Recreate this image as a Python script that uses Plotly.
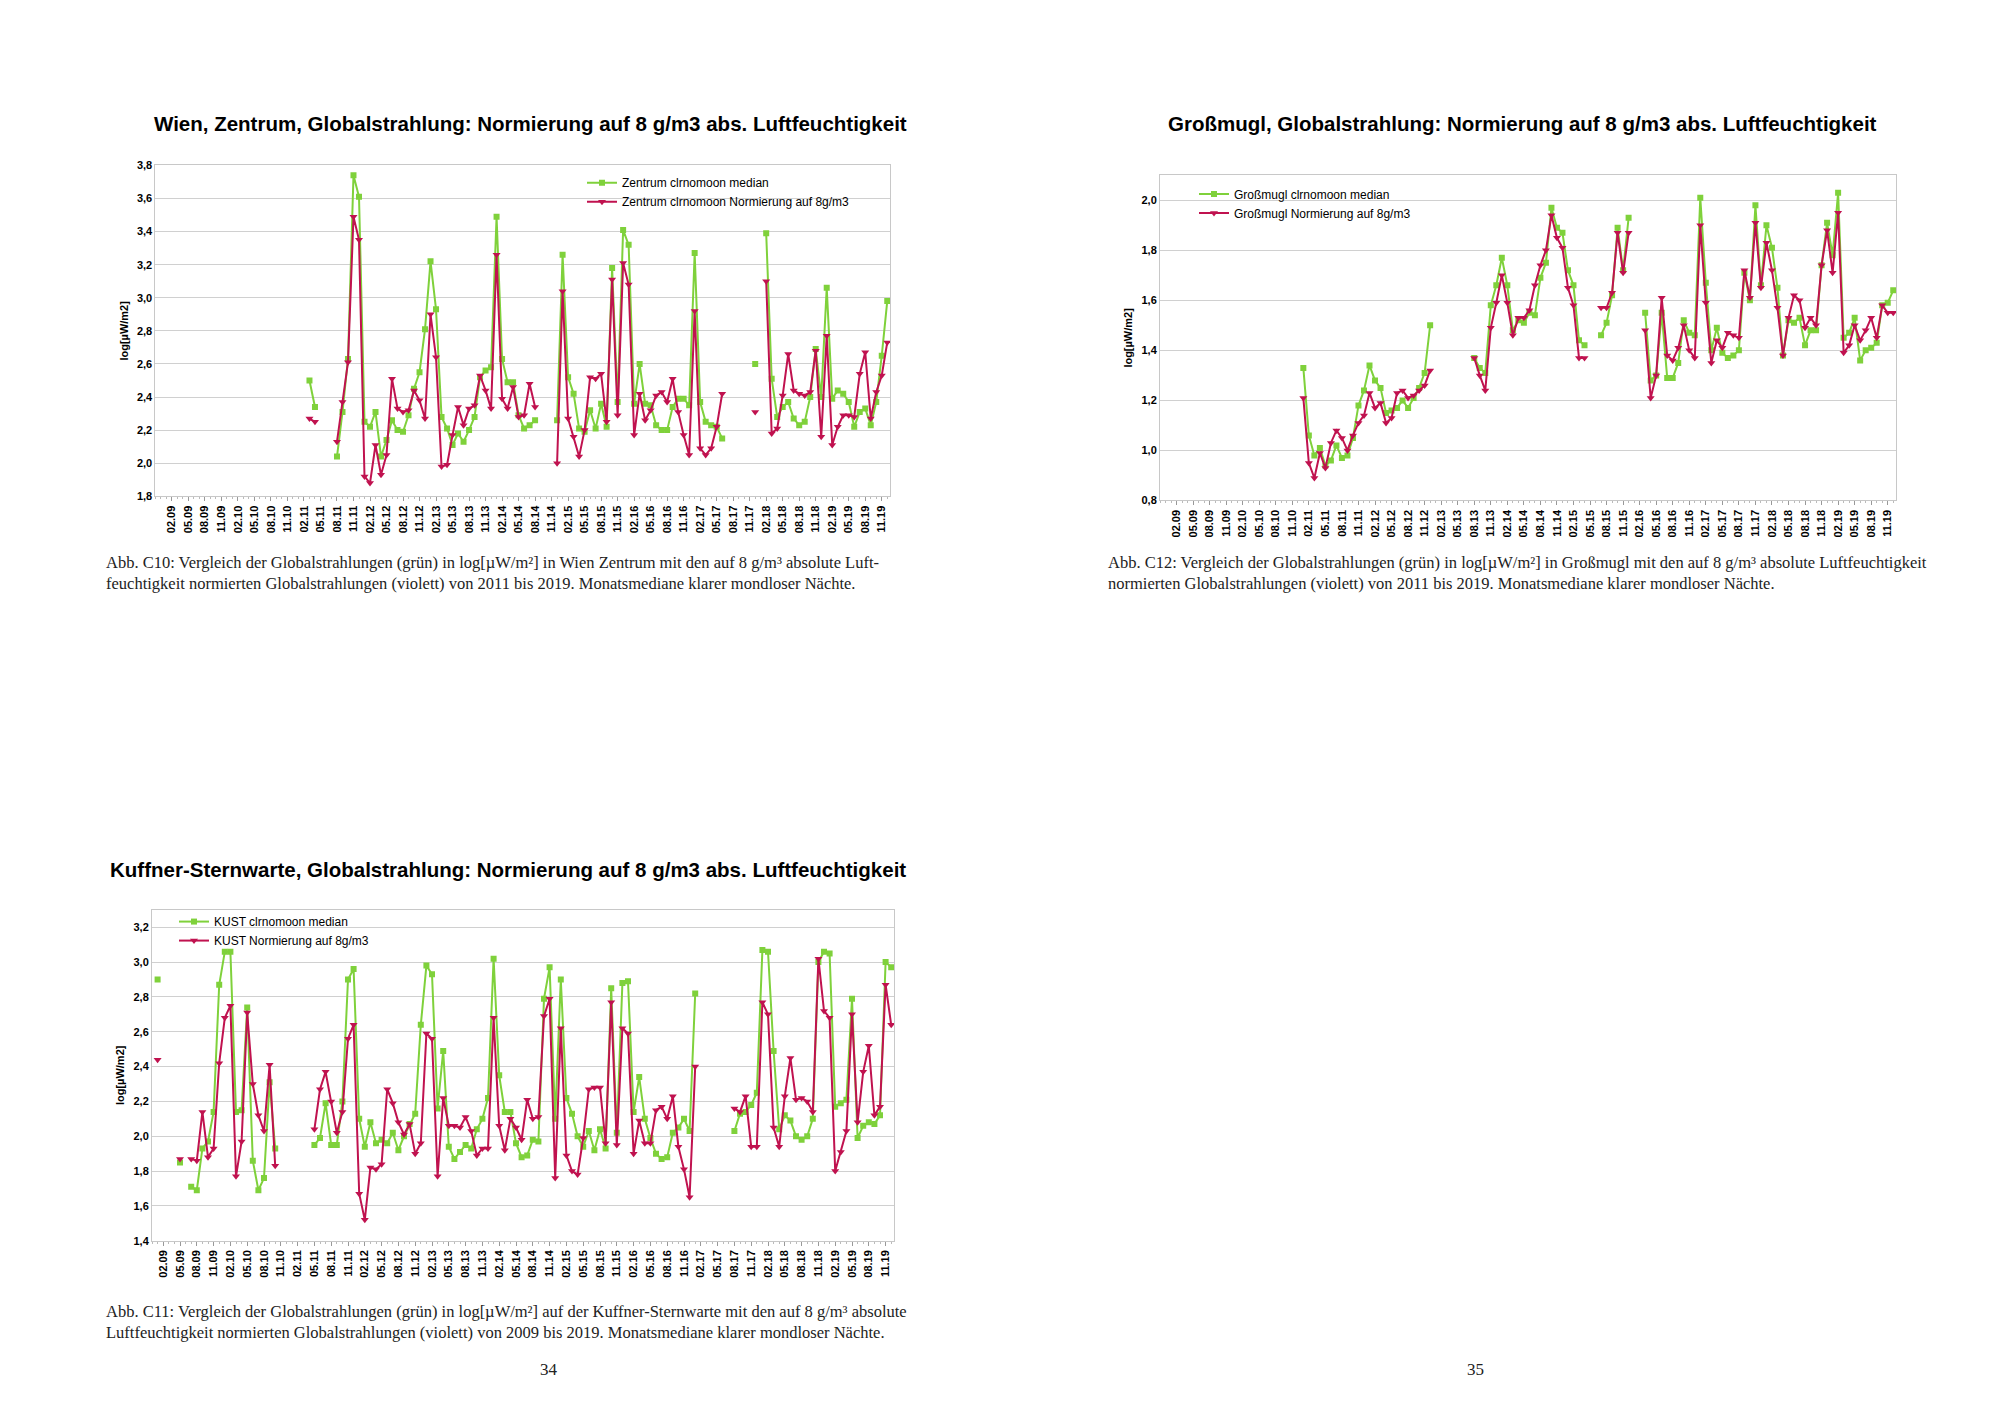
import plotly.graph_objects as go

N = None

# tick labels every 3 months (month index 0 = 02.09)
tick_labels = [f"{mm:02d}.{yy:02d}" for yy in range(9, 20) for mm in (2, 5, 8, 11)]
tick_pos = list(range(0, 3 * len(tick_labels), 3))

# Wien Zentrum, month index 25..130
wien_start = 25
wien_median = [2.50, 2.34, N, N, N, 2.04, 2.31, 2.63, 3.74, 3.61,
               2.25, 2.22, 2.31, 2.04, 2.14, 2.26, 2.20, 2.19, 2.29, 2.45,
               2.55, 2.81, 3.22, 2.93, 2.28, 2.21, 2.11, 2.18, 2.13, 2.20,
               2.28, 2.52, 2.56, 2.58, 3.49, 2.63, 2.49, 2.49, 2.29, 2.21,
               2.23, 2.26, N, N, N, 2.26, 3.26, 2.52, 2.42, 2.21,
               2.19, 2.32, 2.21, 2.36, 2.22, 3.18, 2.37, 3.41, 3.32, 2.36,
               2.60, 2.36, 2.35, 2.23, 2.20, 2.20, 2.34, 2.39, 2.39, 2.35,
               3.27, 2.37, 2.25, 2.23, 2.22, 2.15, N, N, N, N,
               N, 2.60, N, 3.39, 2.51, 2.28, 2.34, 2.37, 2.27, 2.23,
               2.25, 2.40, 2.69, 2.40, 3.06, 2.39, 2.44, 2.42, 2.37, 2.22,
               2.31, 2.33, 2.23, 2.37, 2.65, 2.98]
wien_norm = [2.27, 2.25, N, N, N, 2.13, 2.37, 2.61, 3.49, 3.35,
             1.92, 1.88, 2.11, 1.93, 2.05, 2.51, 2.33, 2.31, 2.32, 2.44,
             2.38, 2.27, 2.90, 2.64, 1.98, 1.99, 2.17, 2.34, 2.23, 2.33,
             2.35, 2.53, 2.44, 2.33, 3.26, 2.39, 2.33, 2.46, 2.28, 2.29,
             2.48, 2.34, N, N, N, 2.00, 3.04, 2.27, 2.16, 2.04,
             2.20, 2.52, 2.51, 2.54, 2.25, 3.11, 2.29, 3.21, 3.08, 2.17,
             2.42, 2.26, 2.32, 2.41, 2.43, 2.37, 2.51, 2.31, 2.17, 2.05,
             2.92, 2.09, 2.05, 2.09, 2.22, 2.42, N, N, N, N,
             N, 2.31, N, 3.10, 2.18, 2.21, 2.41, 2.66, 2.44, 2.42,
             2.41, 2.43, 2.68, 2.16, 2.77, 2.11, 2.22, 2.29, 2.29, 2.28,
             2.54, 2.67, 2.27, 2.43, 2.53, 2.73]

# Großmugl, month index 23..130
gm_start = 23
gm_median = [1.33, 1.06, 0.98, 1.01, 0.94, 0.96, 1.02, 0.97, 0.98, 1.05,
             1.18, 1.24, 1.34, 1.28, 1.25, 1.15, 1.16, 1.17, 1.20, 1.17,
             1.21, 1.25, 1.31, 1.50, N, N, N, N, N, N,
             N, 1.37, 1.33, 1.31, 1.58, 1.66, 1.77, 1.66, 1.48, 1.52,
             1.51, 1.55, 1.54, 1.69, 1.75, 1.97, 1.89, 1.87, 1.72, 1.66,
             1.44, 1.42, N, N, 1.46, 1.51, 1.62, 1.89, 1.72, 1.93,
             N, N, 1.55, 1.28, 1.30, 1.55, 1.29, 1.29, 1.35, 1.52,
             1.47, 1.46, 2.01, 1.67, 1.40, 1.49, 1.39, 1.37, 1.38, 1.40,
             1.71, 1.60, 1.98, 1.66, 1.90, 1.81, 1.65, 1.38, 1.52, 1.51,
             1.53, 1.42, 1.48, 1.48, 1.74, 1.91, 1.78, 2.03, 1.45, 1.47,
             1.53, 1.36, 1.40, 1.41, 1.43, 1.58, 1.59, 1.64]
gm_norm = [1.21, 0.95, 0.89, 0.99, 0.93, 1.03, 1.08, 1.05, 1.00, 1.06,
           1.11, 1.14, 1.23, 1.17, 1.19, 1.11, 1.13, 1.23, 1.24, 1.21,
           1.22, 1.24, 1.26, 1.32, N, N, N, N, N, N,
           N, 1.37, 1.30, 1.24, 1.49, 1.59, 1.70, 1.59, 1.46, 1.53,
           1.53, 1.56, 1.66, 1.74, 1.80, 1.94, 1.85, 1.81, 1.65, 1.58,
           1.37, 1.37, N, N, 1.57, 1.57, 1.63, 1.87, 1.71, 1.87,
           N, N, 1.48, 1.21, 1.30, 1.61, 1.38, 1.36, 1.41, 1.50,
           1.40, 1.37, 1.90, 1.59, 1.35, 1.44, 1.41, 1.47, 1.46, 1.45,
           1.72, 1.61, 1.91, 1.65, 1.83, 1.72, 1.57, 1.38, 1.53, 1.62,
           1.60, 1.49, 1.53, 1.50, 1.74, 1.88, 1.71, 1.95, 1.39, 1.42,
           1.50, 1.44, 1.48, 1.53, 1.45, 1.58, 1.55, 1.55]

# Kuffner-Sternwarte, month index -1..130
kust_start = -1
kust_median = [2.90, N, N, N, 1.85, N, 1.71, 1.69, 1.93, 1.97,
               2.14, 2.87, 3.06, 3.06, 2.14, 2.15, 2.74, 1.86, 1.69, 1.76,
               2.31, 1.93, N, N, N, N, N, N, 1.95, 1.99,
               2.19, 1.95, 1.95, 2.20, 2.90, 2.96, 2.10, 1.94, 2.08, 1.96,
               1.98, 1.96, 2.02, 1.92, 2.00, 2.07, 2.13, 2.64, 2.98, 2.93,
               2.16, 2.49, 1.94, 1.87, 1.91, 1.95, 1.93, 2.04, 2.10, 2.22,
               3.02, 2.35, 2.14, 2.14, 1.96, 1.88, 1.89, 1.98, 1.97, 2.79,
               2.97, 2.10, 2.90, 2.22, 2.13, 2.00, 1.94, 2.03, 1.92, 2.04,
               1.93, 2.85, 2.02, 2.88, 2.89, 2.14, 2.34, 2.10, 1.99, 1.90,
               1.87, 1.88, 2.02, 2.05, 2.10, 2.03, 2.82, N, N, N,
               N, N, N, 2.03, 2.13, 2.14, 2.18, 2.25, 3.07, 3.06,
               2.49, 2.04, 2.12, 2.09, 2.00, 1.98, 2.00, 2.10, 3.00, 3.06,
               3.05, 2.17, 2.19, 2.21, 2.79, 1.99, 2.06, 2.08, 2.07, 2.12,
               3.00, 2.97]
kust_norm = [2.44, N, N, N, 1.87, N, 1.87, 1.86, 2.14, 1.88,
             1.93, 2.42, 2.68, 2.75, 1.77, 1.97, 2.71, 2.30, 2.12, 2.03,
             2.41, 1.83, N, N, N, N, N, N, 2.04, 2.27,
             2.37, 2.20, 2.02, 2.14, 2.56, 2.64, 1.67, 1.52, 1.82, 1.81,
             1.84, 2.27, 2.19, 2.08, 2.01, 2.07, 1.90, 1.96, 2.59, 2.56,
             1.77, 2.22, 2.06, 2.06, 2.05, 2.11, 2.03, 1.89, 1.93, 1.93,
             2.68, 2.06, 1.92, 2.10, 2.05, 1.98, 2.21, 2.10, 2.11, 2.69,
             2.79, 1.76, 2.62, 1.89, 1.80, 1.78, 1.99, 2.27, 2.28, 2.28,
             1.96, 2.77, 1.95, 2.62, 2.59, 1.90, 2.09, 1.96, 1.96, 2.15,
             2.17, 2.10, 2.23, 1.94, 1.81, 1.65, 2.40, N, N, N,
             N, N, N, 2.16, 2.14, 2.23, 1.94, 1.94, 2.77, 2.70,
             2.05, 1.94, 2.23, 2.45, 2.21, 2.22, 2.20, 2.14, 3.02, 2.72,
             2.68, 1.80, 1.91, 2.03, 2.70, 2.08, 2.37, 2.52, 2.12, 2.17,
             2.87, 2.64]

GREEN = "#7fd13b"
RED = "#c0124f"
FONT = "Liberation Sans"

charts = [
    dict(start=wien_start, med=wien_median, norm=wien_norm,
         names=("Zentrum clrnomoon median", "Zentrum clrnomoon Normierung auf 8g/m3"),
         title="Wien, Zentrum, Globalstrahlung: Normierung auf 8 g/m3 abs. Luftfeuchtigkeit",
         xdom=[0.0737, 0.441], ydom=[0.656, 0.892], yr=[1.8, 3.8], xr=[-3, 130.5],
         leg=dict(x=0.287, y=0.89, xanchor="left"), ty=0.912, tx=0.261),
    dict(start=gm_start, med=gm_median, norm=gm_norm,
         names=("Großmugl clrnomoon median", "Großmugl Normierung auf 8g/m3"),
         title="Großmugl, Globalstrahlung: Normierung auf 8 g/m3 abs. Luftfeuchtigkeit",
         xdom=[0.576, 0.944], ydom=[0.653, 0.885], yr=[0.8, 2.1], xr=[-3, 130.5],
         leg=dict(x=0.593, y=0.882, xanchor="left"), ty=0.912, tx=0.757),
    dict(start=kust_start, med=kust_median, norm=kust_norm,
         names=("KUST clrnomoon median", "KUST Normierung auf 8g/m3"),
         title="Kuffner-Sternwarte, Globalstrahlung: Normierung auf 8 g/m3 abs. Luftfeuchtigkeit",
         xdom=[0.072, 0.443], ydom=[0.125, 0.361], yr=[1.4, 3.3], xr=[-2, 130.5],
         leg=dict(x=0.083, y=0.363, xanchor="left"), ty=0.38, tx=0.250),
]

fig = go.Figure()
annotations = []
for i, c in enumerate(charts, start=1):
    sfx = "" if i == 1 else str(i)
    xs = list(range(c["start"], c["start"] + len(c["med"])))
    leg = "legend" if i == 1 else f"legend{i}"
    fig.add_trace(go.Scatter(x=xs, y=c["med"], name=c["names"][0], mode="lines+markers",
                             line=dict(color=GREEN, width=2),
                             marker=dict(symbol="square", size=6, color=GREEN),
                             xaxis="x" + sfx, yaxis="y" + sfx, legend=leg))
    fig.add_trace(go.Scatter(x=xs, y=c["norm"], name=c["names"][1], mode="lines+markers",
                             line=dict(color=RED, width=2),
                             marker=dict(symbol="triangle-down", size=7, color=RED),
                             xaxis="x" + sfx, yaxis="y" + sfx, legend=leg))
    fig.update_layout(**{
        "xaxis" + sfx: dict(domain=c["xdom"], anchor="y" + sfx, range=c["xr"],
                            tickvals=tick_pos, ticktext=tick_labels, tickangle=-90,
                            tickfont=dict(family=FONT, size=11, color="#000", weight="bold"),
                            showgrid=False, zeroline=False, showline=True, mirror=True,
                            linecolor="#c8c8c8", ticks="outside", ticklen=4, tickcolor="#999",
                            minor=dict(dtick=1, ticks="outside", ticklen=2, tickcolor="#bbb")),
        "yaxis" + sfx: dict(domain=c["ydom"], anchor="x" + sfx, range=c["yr"], dtick=0.2,
                            tick0=0, tickformat=".1f",
                            tickfont=dict(family=FONT, size=11, color="#000", weight="bold"),
                            gridcolor="#d0d0d0", zeroline=False, showline=True, mirror=True,
                            linecolor="#c8c8c8",
                            title=dict(text="<b>log[µW/m2]</b>", standoff=6,
                                       font=dict(family=FONT, size=11, color="#000"))),
        leg: dict(**c["leg"], yanchor="top", bgcolor="rgba(0,0,0,0)",
                  font=dict(family=FONT, size=12, color="#000"), tracegroupgap=0,
                  itemwidth=30),
    })
    annotations.append(dict(text="<b>" + c["title"] + "</b>", x=c["tx"], y=c["ty"],
                            xref="paper", yref="paper", showarrow=False,
                            xanchor="center", yanchor="bottom",
                            font=dict(family=FONT, size=20.5, color="#000")))

captions = [
    ("Abb. C10: Vergleich der Globalstrahlungen (grün) in log[µW/m²] in Wien Zentrum mit den auf 8 g/m³ absolute Luft-<br>"
     "feuchtigkeit normierten Globalstrahlungen (violett) von 2011 bis 2019. Monatsmediane klarer mondloser Nächte.",
     0.048, 0.617),
    ("Abb. C12: Vergleich der Globalstrahlungen (grün) in log[µW/m²] in Großmugl mit den auf 8 g/m³ absolute Luftfeuchtigkeit<br>"
     "normierten Globalstrahlungen (violett) von 2011 bis 2019. Monatsmediane klarer mondloser Nächte.",
     0.549, 0.617),
    ("Abb. C11: Vergleich der Globalstrahlungen (grün) in log[µW/m²] auf der Kuffner-Sternwarte mit den auf 8 g/m³ absolute<br>"
     "Luftfeuchtigkeit normierten Globalstrahlungen (violett) von 2009 bis 2019. Monatsmediane klarer mondloser Nächte.",
     0.048, 0.0825),
]
for text, x, y in captions:
    annotations.append(dict(text=text, x=x, y=y, xref="paper", yref="paper", showarrow=False,
                            xanchor="left", yanchor="top", align="left",
                            font=dict(family="Liberation Serif", size=16.5, color="#222")))
for text, x in [("34", 0.265), ("35", 0.739)]:
    annotations.append(dict(text=text, x=x, y=0.025, xref="paper", yref="paper",
                            showarrow=False, font=dict(family="Liberation Serif", size=17, color="#222")))

fig.update_layout(width=2000, height=1414, margin=dict(l=0, r=0, t=0, b=0),
                  paper_bgcolor="white", plot_bgcolor="white", separators=",.",
                  annotations=annotations)

fig.write_html("out.html")
